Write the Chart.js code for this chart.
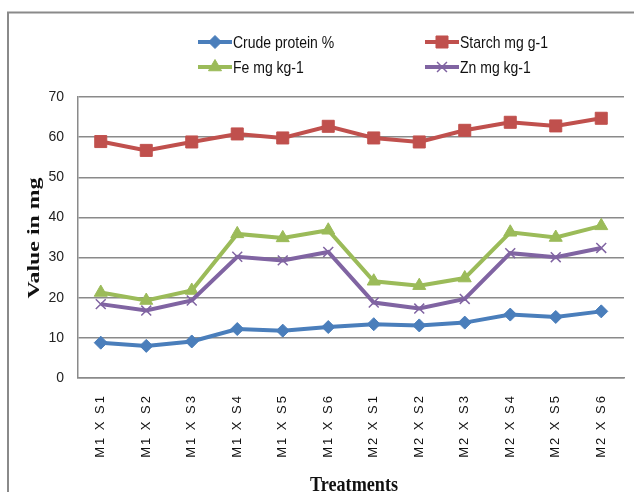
<!DOCTYPE html>
<html>
<head>
<meta charset="utf-8">
<script src="https://cdn.jsdelivr.net/npm/chart.js@4"></script>
<style>
html,body{margin:0;padding:0;background:#fff;}
#wrap{width:634px;height:492px;position:relative;}
</style>
</head>
<body>
<div id="wrap"><canvas id="c" width="634" height="492"></canvas></div>
<script>
const categories = ["M1 X S1","M1 X S2","M1 X S3","M1 X S4","M1 X S5","M1 X S6","M2 X S1","M2 X S2","M2 X S3","M2 X S4","M2 X S5","M2 X S6"];
const crudeProtein = [8.8, 8.0, 9.1, 12.2, 11.8, 12.7, 13.4, 13.1, 13.8, 15.8, 15.2, 16.6];
const starch = [58.9, 56.7, 58.8, 60.8, 59.8, 62.7, 59.8, 58.8, 61.7, 63.7, 62.8, 64.7];
const fe = [21.3, 19.3, 21.8, 35.9, 34.9, 36.8, 24.1, 23.0, 24.9, 36.3, 35.0, 37.9];
const zn = [18.4, 16.8, 19.3, 30.2, 29.3, 31.4, 18.8, 17.3, 19.7, 31.1, 30.1, 32.4];
const seriesNames = ["Crude protein %", "Starch mg g-1", "Fe mg kg-1", "Zn mg kg-1"];
const yTicks = [0,10,20,30,40,50,60,70];
const yTitle = "Value in mg";
const xTitle = "Treatments";

const colors = ["#4A7EBB", "#C0504D", "#9BBB59", "#8064A2"];
const styles = [
  {pointStyle:'rectRot', radius:6.5, bw:1},
  {pointStyle:'rect', radius:8.5, bw:1},
  {pointStyle:'triangle', radius:7.5, bw:1},
  {pointStyle:'crossRot', radius:7, bw:1.5}
];
const values = [crudeProtein, starch, fe, zn];

const datasets = values.map((v,i)=>({
  label: seriesNames[i],
  data: v,
  borderColor: colors[i],
  backgroundColor: colors[i],
  borderWidth: 4,
  pointStyle: styles[i].pointStyle,
  pointRadius: styles[i].radius,
  pointHoverRadius: styles[i].radius,
  pointBorderWidth: styles[i].bw,
  pointBorderColor: colors[i],
  pointBackgroundColor: colors[i],
  tension: 0,
  order: 4-i
}));

const decor = {
  id:'decor',
  beforeDraw(chart){
    const ctx = chart.ctx;
    ctx.save();
    ctx.fillStyle = '#fff';
    ctx.fillRect(0,0,chart.width,chart.height);
    ctx.strokeStyle = '#8a8a8a';
    ctx.lineWidth = 2;
    ctx.beginPath();
    ctx.moveTo(8, chart.height+5);
    ctx.lineTo(8, 12.5);
    ctx.lineTo(chart.width+5, 12.5);
    ctx.stroke();
    ctx.restore();
    // wider spacing for the rotated category labels (drawn in the z<=0 layer)
    ctx.letterSpacing = '2px';
  },
  beforeDatasetsDraw(chart){
    chart.ctx.letterSpacing = '0px';
  },
  afterDraw(chart){
    const ctx = chart.ctx;
    ctx.letterSpacing = '0px';
    ctx.save();
    // legend
    const pos = [[198,42],[425,42],[198,67],[425,67]];
    ctx.font = '14px "Liberation Sans", Arial, sans-serif';
    ctx.textBaseline = 'middle';
    ctx.textAlign = 'left';
    pos.forEach((p,i)=>{
      ctx.strokeStyle = colors[i];
      ctx.lineWidth = 4;
      ctx.beginPath();
      ctx.moveTo(p[0], p[1]); ctx.lineTo(p[0]+34, p[1]);
      ctx.stroke();
      ctx.fillStyle = colors[i];
      ctx.lineWidth = styles[i].bw;
      Chart.helpers.drawPoint(ctx, {pointStyle: styles[i].pointStyle, radius: styles[i].radius, borderWidth: styles[i].bw}, p[0]+17, p[1]);
      ctx.save();
      ctx.fillStyle = '#111';
      ctx.translate(p[0]+35, p[1]+1);
      ctx.scale(1, 1.2);
      ctx.fillText(seriesNames[i], 0, 0);
      ctx.restore();
    });
    // y title
    ctx.fillStyle = '#111';
    ctx.font = 'bold 17px "Liberation Serif", "Times New Roman", serif';
    ctx.textAlign = 'center';
    ctx.textBaseline = 'middle';
    let w = ctx.measureText(yTitle).width;
    ctx.translate(35, 238);
    ctx.rotate(-Math.PI/2);
    ctx.scale(121/w, 1);
    ctx.fillText(yTitle, 0, 0);
    ctx.restore();
    ctx.save();
    ctx.fillStyle = '#111';
    ctx.font = 'bold 21px "Liberation Serif", "Times New Roman", serif';
    ctx.textAlign = 'center';
    ctx.textBaseline = 'alphabetic';
    w = ctx.measureText(xTitle).width;
    ctx.translate(354, 491);
    ctx.scale(88/w, 1);
    ctx.fillText(xTitle, 0, 0);
    ctx.restore();
  }
};

new Chart(document.getElementById('c'), {
  type:'line',
  data:{labels:categories, datasets},
  options:{
    responsive:false,
    animation:false,
    devicePixelRatio:1,
    layout:{padding:{left:8, top:97, right:10, bottom:0}},
    plugins:{legend:{display:false}, tooltip:{enabled:false}},
    scales:{
      x:{
        offset:true,
        grid:{display:false},
        border:{display:true, color:'#8a8a8a', width:1.5},
        ticks:{autoSkip:false, minRotation:90, maxRotation:90, padding:8, color:'#111', z:0,
          font:{family:'"Liberation Sans", Arial, sans-serif', size:13}},
        afterFit(s){ s.height = 114; }
      },
      y:{
        min:0, max:70,
        afterBuildTicks(s){ s.ticks = yTicks.map(v=>({value:v})); },
        grid:{color:'#8a8a8a', lineWidth:1.5, drawTicks:false},
        border:{display:true, color:'#8a8a8a', width:1.5},
        ticks:{padding:14, color:'#222', z:1,
          font:{family:'"Liberation Sans", Arial, sans-serif', size:14}},
        afterFit(s){ s.width = 70; }
      }
    }
  },
  plugins:[decor]
});
</script>
</body>
</html>
